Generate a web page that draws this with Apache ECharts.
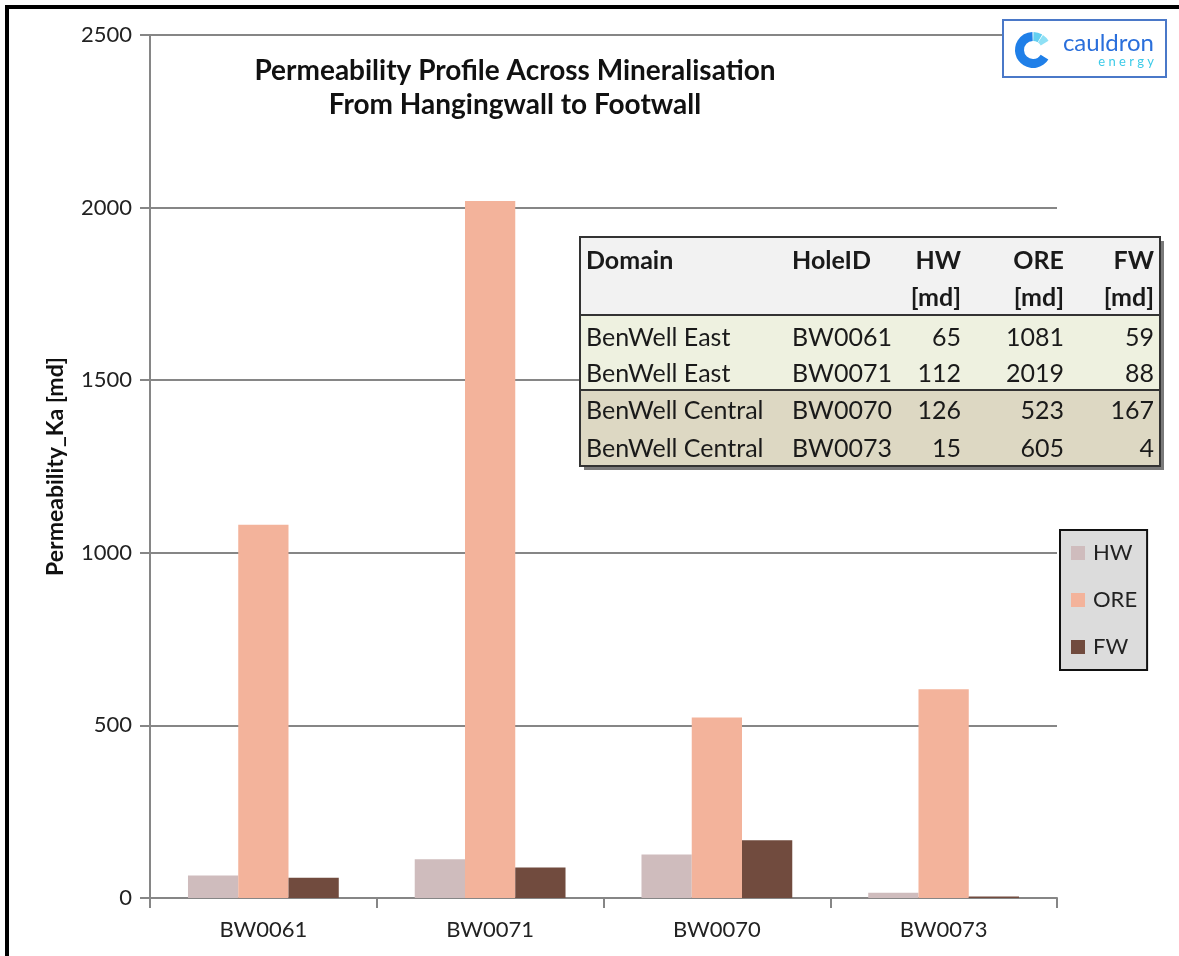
<!DOCTYPE html>
<html>
<head>
<meta charset="UTF-8">
<title>Permeability Profile</title>
<script src="https://cdn.jsdelivr.net/npm/echarts@6/dist/echarts.min.js"></script>
<style>
html,body{margin:0;padding:0;background:#fff}
#main{width:1179px;height:956px}
</style>
</head>
<body>
<div id="main"></div>
<script>
var categories = ['BW0061', 'BW0071', 'BW0070', 'BW0073'];
var hwValues = [65, 112, 126, 15];
var oreValues = [1081, 2019, 523, 605];
var fwValues = [59, 88, 167, 4];
var domains = ['BenWell East', 'BenWell East', 'BenWell Central', 'BenWell Central'];
var seriesNames = ['HW', 'ORE', 'FW'];

var font = 'Lato, "Open Sans", sans-serif';
var gridColor = '#868686';

var chart = echarts.init(document.getElementById('main'));

// table drawn with graphic elements (on top of the grid lines)
var tX = 580, tY = 237, tW = 580, tH = 229;
var rowY = [338, 374, 411, 449];
var tableEls = [
  {type: 'rect', z: 50, shape: {x: tX + 4, y: tY + 4, width: tW, height: tH}, style: {fill: '#7a7a7a'}},
  {type: 'rect', z: 51, shape: {x: tX, y: tY, width: tW, height: tH}, style: {fill: '#f2f2f2'}},
  {type: 'rect', z: 51, shape: {x: tX, y: 315, width: tW, height: 75}, style: {fill: '#eef1e0'}},
  {type: 'rect', z: 51, shape: {x: tX, y: 390, width: tW, height: 76}, style: {fill: '#ddd8c3'}},
  {type: 'line', z: 52, shape: {x1: tX, y1: 315, x2: tX + tW, y2: 315}, style: {stroke: '#333', lineWidth: 2}},
  {type: 'line', z: 52, shape: {x1: tX, y1: 390, x2: tX + tW, y2: 390}, style: {stroke: '#333', lineWidth: 2}},
  {type: 'rect', z: 52, shape: {x: tX, y: tY, width: tW, height: tH}, style: {fill: 'none', stroke: '#333', lineWidth: 2}}
];
function cell(txt, x, y, align, bold) {
  tableEls.push({type: 'text', z: 53, x: x, y: y,
    style: {text: txt, fill: '#1a1a1a', font: (bold ? 'bold ' : '') + '25px ' + font, align: align, verticalAlign: 'middle'}});
}
cell('Domain', 586, 261, 'left', true);
cell('HoleID', 792, 261, 'left', true);
cell('HW', 961, 261, 'right', true);
cell('ORE', 1064, 261, 'right', true);
cell('FW', 1154, 261, 'right', true);
cell('[md]', 961, 298, 'right', true);
cell('[md]', 1064, 298, 'right', true);
cell('[md]', 1154, 298, 'right', true);
for (var i = 0; i < categories.length; i++) {
  cell(domains[i], 586, rowY[i], 'left', false);
  cell(categories[i], 792, rowY[i], 'left', false);
  cell(String(hwValues[i]), 961, rowY[i], 'right', false);
  cell(String(oreValues[i]), 1064, rowY[i], 'right', false);
  cell(String(fwValues[i]), 1154, rowY[i], 'right', false);
}

// logo
var logoEls = [
  {type: 'rect', z: 50, shape: {x: 1003, y: 20, width: 163, height: 57}, style: {fill: '#fff', stroke: '#4a78c8', lineWidth: 2}},
  {type: 'sector', z: 51, shape: {cx: 1033, cy: 50, r: 18, r0: 9, startAngle: 0.55, endAngle: 4.68}, style: {fill: '#1f7fe8'}},
  {type: 'sector', z: 51, shape: {cx: 1033, cy: 50, r: 18, r0: 9, startAngle: 4.74, endAngle: 5.25}, style: {fill: '#63cff0'}},
  {type: 'sector', z: 51, shape: {cx: 1033, cy: 50, r: 18, r0: 9, startAngle: 5.3, endAngle: 5.75}, style: {fill: '#8ee0f5'}},
  {type: 'text', z: 51, x: 1154, y: 43, style: {text: 'cauldron', fill: '#2a6fdb', font: '24px ' + font, align: 'right', verticalAlign: 'middle'}},
  {type: 'text', z: 51, x: 1154, y: 62, style: {text: 'e n e r g y', fill: '#3ccbe8', font: '13px ' + font, align: 'right', verticalAlign: 'middle'}}
];

var option = {
  animation: false,
  backgroundColor: '#fff',
  grid: {left: 150, right: 122, top: 35, bottom: 58},
  legend: {
    orient: 'vertical', left: 1060, top: 530,
    data: seriesNames,
    backgroundColor: '#dcdcdc', borderColor: '#111', borderWidth: 2,
    padding: [12, 10, 12, 11],
    itemWidth: 14, itemHeight: 14, itemGap: 25,
    icon: 'rect',
    textStyle: {fontFamily: font, fontSize: 22, color: '#222', padding: [0, 0, 0, 3]}
  },
  xAxis: {
    type: 'category',
    data: categories,
    axisLine: {lineStyle: {color: gridColor, width: 2}},
    axisTick: {show: true, length: 10, lineStyle: {color: gridColor, width: 2}},
    axisLabel: {fontFamily: font, fontSize: 22, color: '#222', margin: 21}
  },
  yAxis: {
    type: 'value', min: 0, max: 2500, interval: 500,
    name: 'Permeability_Ka [md]',
    nameLocation: 'middle', nameGap: 83, nameRotate: 90,
    nameTextStyle: {fontFamily: font, fontSize: 23, fontWeight: 'bold', color: '#111'},
    axisLine: {show: true, lineStyle: {color: gridColor, width: 2}},
    axisTick: {show: true, length: 10, lineStyle: {color: gridColor, width: 2}},
    axisLabel: {fontFamily: font, fontSize: 22, color: '#222', margin: 18,
      formatter: function (v) { return String(v); }},
    splitLine: {lineStyle: {color: gridColor, width: 2}}
  },
  series: [
    {name: 'HW', type: 'bar', data: hwValues, itemStyle: {color: '#cfbcbd'}, barGap: '0%', barCategoryGap: '33.5%'},
    {name: 'ORE', type: 'bar', data: oreValues, itemStyle: {color: '#f3b39b'}, barGap: '0%', barCategoryGap: '33.5%'},
    {name: 'FW', type: 'bar', data: fwValues, itemStyle: {color: '#714b3e'}, barGap: '0%', barCategoryGap: '33.5%'}
  ],
  graphic: [
    {type: 'rect', shape: {x: 7, y: 7, width: 1300, height: 1100}, style: {fill: 'none', stroke: '#000', lineWidth: 4}, z: 100, silent: true},
    {type: 'text', x: 515, y: 54, z: 50, style: {
      text: 'Permeability Profile Across Mineralisation\nFrom Hangingwall to Footwall',
      font: 'bold 28px ' + font, fill: '#111', align: 'center', lineHeight: 34}},
    {type: 'group', children: tableEls},
    {type: 'group', children: logoEls}
  ]
};
chart.setOption(option);
</script>
</body>
</html>
